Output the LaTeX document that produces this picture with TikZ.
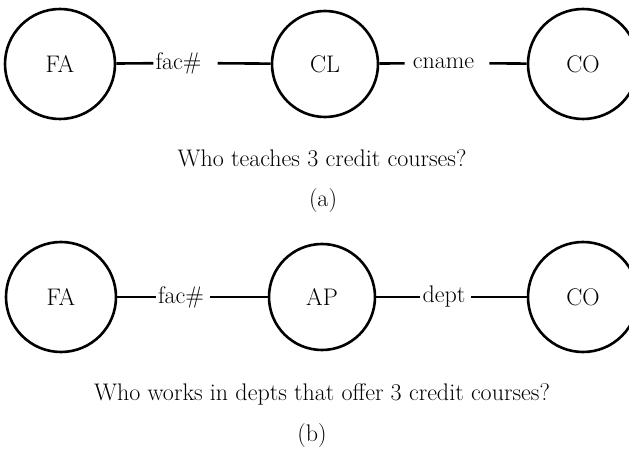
\documentclass[tikz,border=0pt]{standalone}
\usetikzlibrary{positioning}

\begin{document}
\begin{tikzpicture}[x=1pt, y=-1pt, font=\fontsize{24}{28}\selectfont,
  entity/.style={draw, circle, line width=2.6pt, minimum size=110pt, inner sep=0pt},
  attr/.style={inner xsep=2pt, inner ysep=0pt},
  link/.style={line width=2.6pt}]
  \useasboundingbox (0,0) rectangle (629,449);

  % (a)
  \node[entity] (faA) at (60,64) {FA};
  \node[entity, minimum size=106pt] (clA) at (325,64) {CL};
  \node[entity] (coA) at (583,64) {CO};
  \node[attr] (facA) at (178.5,63) {fac\#};
  \node[attr] (cnameA) at (443.5,63) {cname};
  \draw[link] (faA) -- (facA);
  \draw[link, shorten <=14pt] (facA) -- (clA);
  \draw[link, shorten >=6pt] (clA) -- (cnameA);
  \draw[link, shorten <=13pt] (cnameA) -- (coA);
  \node (qA) at (322,158) {Who teaches 3 credit courses?};
  \node (tagA) at (323,201) {(a)};

  % (b)
  \node[entity] (faB) at (61,297) {FA};
  \node[entity, minimum size=106pt] (apB) at (322,297) {AP};
  \node[entity] (coB) at (583,297) {CO};
  \node[attr] (facB) at (181,297) {fac\#};
  \node[attr] (deptB) at (444,297) {dept};
  \draw[link] (faB) -- (facB);
  \draw[link, shorten <=4pt] (facB) -- (apB);
  \draw[link] (apB) -- (deptB);
  \draw[link, shorten <=3pt] (deptB) -- (coB);
  \node (qB) at (322,394) {Who works in depts that offer 3 credit courses?};
  \node (tagB) at (312,436) {(b)};
\end{tikzpicture}
\end{document}
